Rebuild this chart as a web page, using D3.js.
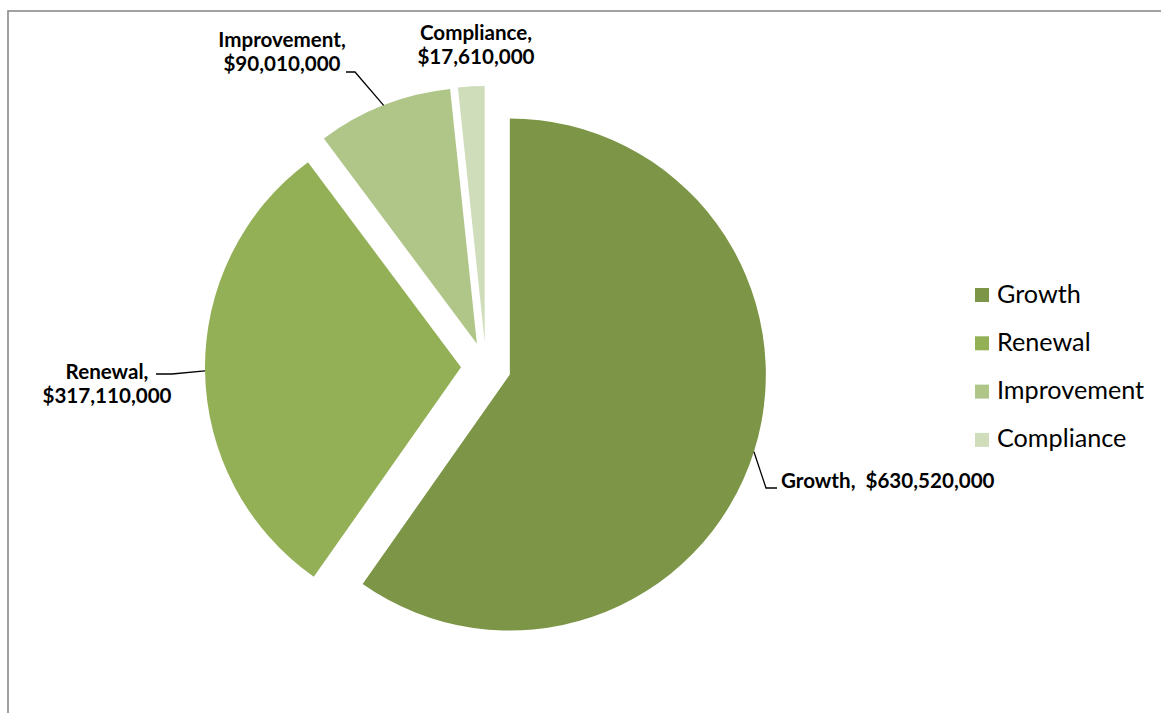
<!DOCTYPE html>
<html>
<head>
<meta charset="utf-8">
<script src="https://cdn.jsdelivr.net/npm/d3@7"></script>
<style>
  html, body { margin: 0; padding: 0; background: #ffffff; }
  svg { display: block; }
  text { font-family: Lato, "Open Sans", sans-serif; white-space: pre; }
</style>
</head>
<body>
<svg id="chart" width="1161" height="713"></svg>
<script>
// ---- data ----
const categories = ["Growth", "Renewal", "Improvement", "Compliance"];
const values = [630520000, 317110000, 90010000, 17610000];
const colors = ["#7d9546", "#93b056", "#b0c689", "#d0ddbb"];

// ---- layout ----
const W = 1161, H = 713;
const cx = 486, cy = 367, R = 256, explode = 25;

const svg = d3.select("#chart");

// chart border (top & left visible)
svg.append("rect")
  .attr("x", 8).attr("y", 11)
  .attr("width", W + 20).attr("height", H + 20)
  .attr("fill", "none").attr("stroke", "#8a8a8a").attr("stroke-width", 1.6);

const data = categories.map((c, i) => ({ name: c, value: values[i], color: colors[i] }));
const pie = d3.pie().value(d => d.value).sort(null).startAngle(0).endAngle(2 * Math.PI);
const arcs = pie(data);
const arc = d3.arc().innerRadius(0).outerRadius(R);

const g = svg.append("g").attr("transform", `translate(${cx},${cy})`);

arcs.forEach(a => {
  const mid = (a.startAngle + a.endAngle) / 2;
  a.dx = Math.sin(mid) * explode;
  a.dy = -Math.cos(mid) * explode;
  a.mid = mid;
});

g.selectAll("path.slice")
  .data(arcs)
  .enter().append("path")
  .attr("class", "slice")
  .attr("d", arc)
  .attr("fill", d => d.data.color)
  .attr("transform", d => `translate(${d.dx},${d.dy})`);

const fmt = d3.format("$,");

// label settings (positions in page coords)
const labelCfg = {
  "Growth":      { lines: ["Growth,  " + fmt(values[0])], x: 781, y: 488, anchor: "start",
                   leader: [[766, 488], [777, 488]] },
  "Renewal":     { lines: ["Renewal,", fmt(values[1])], x: 107, y: 379, anchor: "middle",
                   leader: [[172, 374], [156, 374]] },
  "Improvement": { lines: ["Improvement,", fmt(values[2])], x: 282, y: 46.5, anchor: "middle",
                   leader: [[355, 72], [346, 72]] },
  "Compliance":  { lines: ["Compliance,", fmt(values[3])], x: 476, y: 40, anchor: "middle",
                   leader: null }
};

const labels = svg.append("g");
arcs.forEach(a => {
  const cfg = labelCfg[a.data.name];
  if (cfg.leader) {
    const px = cx + a.dx + Math.sin(a.mid) * R;
    const py = cy + a.dy - Math.cos(a.mid) * R;
    const pts = [[px, py]].concat(cfg.leader);
    labels.append("path")
      .attr("d", d3.line()(pts))
      .attr("fill", "none")
      .attr("stroke", "#000")
      .attr("stroke-width", 1.3);
  }
  const t = labels.append("text")
    .attr("x", cfg.x).attr("y", cfg.y)
    .attr("text-anchor", cfg.anchor)
    .attr("font-weight", "bold")
    .attr("font-size", 20.6)
    .attr("fill", "#000");
  cfg.lines.forEach((ln, i) => {
    t.append("tspan").attr("x", cfg.x).attr("dy", i === 0 ? 0 : 24).text(ln);
  });
});

// legend
const legend = svg.append("g").attr("transform", "translate(975,288)");
const rowH = 48.3;
data.forEach((d, i) => {
  const row = legend.append("g").attr("transform", `translate(0,${i * rowH})`);
  row.append("rect").attr("x", 0).attr("y", 0).attr("width", 14).attr("height", 14).attr("fill", d.color);
  row.append("text").attr("x", 22).attr("y", 14.5)
    .attr("font-size", 25.2).attr("fill", "#000").text(d.name);
});
</script>
</body>
</html>
